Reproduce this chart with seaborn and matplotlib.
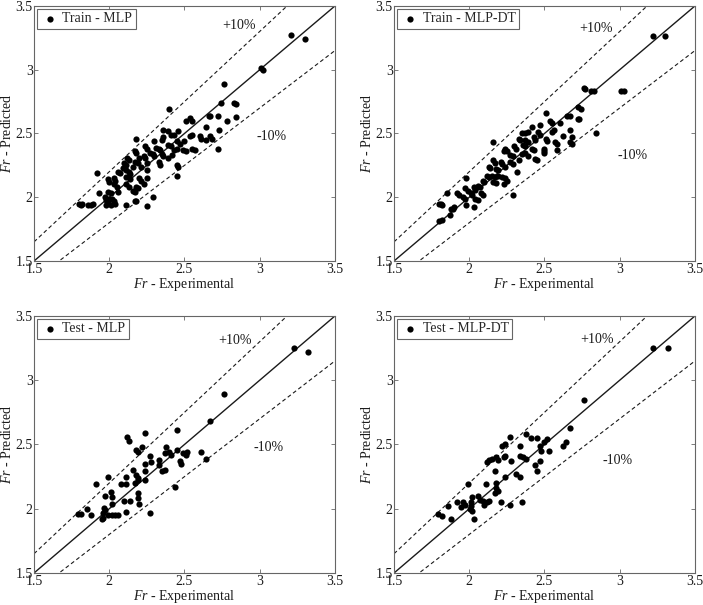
import numpy as np
import matplotlib
matplotlib.use("Agg")
import matplotlib.pyplot as plt
import seaborn as sns

# Fr experimental vs predicted (x, y pairs)
train_mlp = np.array([
    (3.21, 3.275), (3.30, 3.24), (3.01, 3.01), (3.02, 3.00), (2.76, 2.89),
    (2.74, 2.74), (2.83, 2.74), (2.84, 2.73), (2.40, 2.69),
    (2.66, 2.64), (2.67, 2.64), (2.72, 2.64), (2.84, 2.63),
    (2.51, 2.60), (2.54, 2.62), (2.55, 2.60), (2.78, 2.60),
    (2.64, 2.55), (2.73, 2.53), (2.36, 2.53), (2.39, 2.52), (2.46, 2.52),
    (2.41, 2.49), (2.43, 2.49), (2.54, 2.48), (2.55, 2.49),
    (2.60, 2.48), (2.61, 2.46), (2.67, 2.48), (2.68, 2.46), (2.64, 2.45),
    (2.18, 2.46), (2.35, 2.45), (2.36, 2.47), (2.30, 2.44),
    (2.45, 2.44), (2.47, 2.42), (2.50, 2.44), (2.72, 2.38),
    (2.24, 2.40), (2.25, 2.38), (2.31, 2.39), (2.33, 2.38), (2.39, 2.41), (2.41, 2.40),
    (2.43, 2.37), (2.45, 2.38), (2.49, 2.37), (2.51, 2.36), (2.55, 2.38), (2.57, 2.37),
    (2.17, 2.36), (2.18, 2.35), (2.27, 2.35), (2.29, 2.34), (2.34, 2.37), (2.35, 2.34),
    (2.23, 2.32), (2.24, 2.31), (2.30, 2.32), (2.36, 2.32), (2.39, 2.31), (2.42, 2.33),
    (2.12, 2.31), (2.13, 2.29), (2.20, 2.31),
    (2.10, 2.27), (2.11, 2.25), (2.17, 2.28), (2.19, 2.27), (2.25, 2.27), (2.33, 2.28),
    (2.34, 2.25), (2.45, 2.25), (2.46, 2.24),
    (2.09, 2.23), (2.11, 2.21), (2.16, 2.24), (2.21, 2.24),
    (2.06, 2.20), (2.07, 2.19), (2.13, 2.20), (2.14, 2.18), (2.25, 2.21),
    (2.45, 2.17), (1.92, 2.19),
    (1.99, 2.14), (2.00, 2.12), (2.03, 2.15), (2.04, 2.13), (2.11, 2.16), (2.14, 2.14),
    (2.20, 2.15), (2.21, 2.13), (2.25, 2.15),
    (2.03, 2.10), (2.05, 2.08), (2.11, 2.10), (2.13, 2.08), (2.18, 2.08), (2.19, 2.07), (2.23, 2.10),
    (1.99, 2.04), (2.01, 2.03), (2.06, 2.04), (2.16, 2.05), (2.17, 2.04), (1.93, 2.03),
    (1.97, 2.00), (1.98, 1.98), (1.99, 1.97), (2.00, 1.99), (2.02, 1.99), (2.03, 1.97), (2.04, 1.95),
    (1.80, 1.95), (1.81, 1.94), (1.82, 1.95), (1.86, 1.94), (1.88, 1.94), (1.89, 1.95),
    (2.11, 1.94), (2.17, 1.97), (2.18, 1.97), (2.29, 2.00), (2.25, 1.93), (1.98, 1.94), (2.01, 1.94),
])

train_mlp_dt = np.array([
    (3.22, 3.267), (3.30, 3.267), (3.01, 2.835), (3.03, 2.835), (2.84, 2.50),
    (2.76, 2.86), (2.77, 2.85), (2.83, 2.83), (2.81, 2.83),
    (2.72, 2.71), (2.74, 2.69),
    (2.65, 2.64), (2.67, 2.64), (2.72, 2.61), (2.73, 2.61),
    (2.51, 2.66), (2.54, 2.60), (2.55, 2.58), (2.60, 2.58), (2.67, 2.53),
    (2.47, 2.57), (2.42, 2.55),
    (2.35, 2.50), (2.37, 2.50), (2.39, 2.51), (2.46, 2.51), (2.47, 2.49), (2.56, 2.53), (2.55, 2.51),
    (2.62, 2.48), (2.68, 2.47), (2.67, 2.43), (2.68, 2.42), (2.16, 2.43),
    (2.33, 2.46), (2.34, 2.45), (2.37, 2.45), (2.39, 2.43), (2.43, 2.47), (2.44, 2.45),
    (2.51, 2.46), (2.52, 2.44), (2.57, 2.43), (2.58, 2.42),
    (2.24, 2.38), (2.25, 2.36), (2.30, 2.40), (2.31, 2.38), (2.36, 2.41), (2.37, 2.40),
    (2.42, 2.38), (2.43, 2.37), (2.50, 2.38), (2.50, 2.36), (2.58, 2.37),
    (2.27, 2.33), (2.29, 2.32), (2.35, 2.34), (2.37, 2.35), (2.23, 2.36), (2.44, 2.30),
    (2.45, 2.29), (2.50, 2.35), (2.39, 2.32),
    (2.16, 2.29), (2.17, 2.27), (2.21, 2.28), (2.22, 2.26), (2.27, 2.28), (2.29, 2.26), (2.33, 2.29),
    (2.13, 2.24), (2.14, 2.23), (2.18, 2.22), (2.19, 2.21), (2.24, 2.24), (2.32, 2.20),
    (2.12, 2.17), (2.13, 2.16), (2.15, 2.17), (2.17, 2.16), (2.19, 2.17), (2.22, 2.16),
    (2.24, 2.15), (2.25, 2.13),
    (2.09, 2.13), (2.10, 2.12), (2.16, 2.12), (2.18, 2.11), (2.23, 2.10),
    (2.06, 2.09), (2.07, 2.08), (1.98, 2.15), (2.03, 2.08), (2.04, 2.06), (1.97, 2.07), (1.99, 2.05),
    (1.92, 2.03), (1.93, 2.02), (2.01, 2.03), (2.02, 2.02), (2.08, 2.03), (2.09, 2.02),
    (1.96, 2.00), (1.97, 1.99), (2.04, 1.99), (2.06, 1.98), (2.29, 2.02),
    (1.98, 1.94), (2.03, 1.92), (1.85, 2.03), (1.89, 1.91),
    (1.80, 1.95), (1.81, 1.95), (1.82, 1.94), (1.88, 1.91), (1.90, 1.92),
    (1.80, 1.81), (1.82, 1.82), (1.87, 1.86),
])

test_mlp = np.array([
    (3.23, 3.25), (3.32, 3.22), (2.76, 2.89), (2.67, 2.68),
    (2.45, 2.61), (2.24, 2.59), (2.12, 2.56), (2.13, 2.53),
    (2.18, 2.46), (2.19, 2.44), (2.22, 2.48), (2.38, 2.48), (2.27, 2.41),
    (2.37, 2.43), (2.40, 2.44), (2.41, 2.42), (2.45, 2.46), (2.49, 2.43), (2.51, 2.42),
    (2.52, 2.44), (2.61, 2.44),
    (2.47, 2.37), (2.48, 2.35), (2.64, 2.385), (2.24, 2.35), (2.28, 2.36), (2.33, 2.38),
    (2.16, 2.30), (2.33, 2.34), (2.35, 2.29), (2.37, 2.30),
    (1.99, 2.25), (2.11, 2.25), (2.18, 2.26), (2.19, 2.24), (2.24, 2.29),
    (1.91, 2.19), (2.08, 2.19), (2.11, 2.19), (2.17, 2.20), (2.19, 2.22), (2.24, 2.22), (2.44, 2.17),
    (1.97, 2.10), (2.01, 2.13), (2.19, 2.12), (2.19, 2.08), (2.02, 2.09),
    (2.10, 2.06), (2.14, 2.06), (2.20, 2.04), (2.015, 2.04),
    (1.965, 2.005), (1.975, 1.99), (1.96, 1.97), (1.855, 1.996), (1.96, 1.93), (1.95, 1.92),
    (2.11, 1.975), (2.27, 1.97), (1.99, 1.95), (2.02, 1.95), (2.04, 1.95), (2.06, 1.95),
    (1.79, 1.96), (1.815, 1.96), (1.88, 1.95),
])

test_mlp_dt = np.array([
    (3.22, 3.25), (3.32, 3.25), (2.76, 2.85),
    (2.67, 2.63), (2.64, 2.52), (2.62, 2.49), (2.52, 2.54), (2.50, 2.52),
    (2.47, 2.49), (2.48, 2.45), (2.53, 2.45), (2.45, 2.55), (2.41, 2.55), (2.38, 2.58),
    (2.27, 2.56), (2.24, 2.50), (2.22, 2.49), (2.34, 2.49),
    (2.24, 2.41), (2.23, 2.40), (2.18, 2.40), (2.19, 2.38), (2.15, 2.39), (2.13, 2.38), (2.12, 2.36),
    (2.34, 2.41), (2.36, 2.40), (2.38, 2.39),
    (2.28, 2.37), (2.47, 2.37), (2.44, 2.34), (2.45, 2.29),
    (2.17, 2.29), (2.31, 2.27), (2.34, 2.25), (2.24, 2.25),
    (2.18, 2.20), (1.99, 2.19), (2.11, 2.19),
    (2.18, 2.16), (2.19, 2.14), (2.17, 2.12),
    (2.02, 2.09), (2.06, 2.10), (2.07, 2.07),
    (1.92, 2.05), (1.96, 2.05), (1.97, 2.03), (1.945, 2.01), (2.01, 2.05), (2.01, 2.02),
    (2.09, 2.06), (2.10, 2.03), (2.12, 2.05), (2.13, 2.06), (2.21, 2.05),
    (2.005, 2.00), (2.02, 1.98), (2.03, 1.92), (1.86, 2.02),
    (1.79, 1.96), (1.82, 1.94), (1.88, 1.92), (2.27, 2.03), (2.35, 2.05),
])

panel_names = ["Train - MLP", "Train - MLP-DT", "Test - MLP", "Test - MLP-DT"]
panel_data = [train_mlp, train_mlp_dt, test_mlp, test_mlp_dt]
ticks = [1.5, 2, 2.5, 3, 3.5]
tick_labels = ["1.5", "2", "2.5", "3", "3.5"]
line_x = np.array([1.5, 3.5])
band = 0.10

# where the +10% / -10% notes sit, in data units
plus_xy = [(2.86, 3.35), (2.845, 3.325), (2.835, 3.31), (2.85, 3.32)]
minus_xy = [(3.08, 2.475), (3.086, 2.33), (3.056, 2.48), (2.985, 2.375)]

sns.set_style("ticks")
plt.rcParams['font.family'] = ['Liberation Serif', 'DejaVu Serif']
plt.rcParams['mathtext.fontset'] = 'custom'
plt.rcParams['mathtext.rm'] = 'Liberation Serif'
plt.rcParams['mathtext.it'] = 'Liberation Serif:italic'
plt.rcParams['axes.edgecolor'] = '0.4'
plt.rcParams['axes.linewidth'] = 0.8
plt.rcParams['xtick.direction'] = 'in'
plt.rcParams['ytick.direction'] = 'in'
plt.rcParams['xtick.top'] = True
plt.rcParams['ytick.right'] = True
plt.rcParams['xtick.color'] = '0.4'
plt.rcParams['ytick.color'] = '0.4'
plt.rcParams['xtick.labelcolor'] = '0.1'
plt.rcParams['ytick.labelcolor'] = '0.1'

fig = plt.figure(figsize=(7.03, 6.05), dpi=100)
positions = [
    [0.0484, 0.5686, 0.428, 0.4215],
    [0.5605, 0.5686, 0.428, 0.4215],
    [0.0484, 0.0529, 0.428, 0.4248],
    [0.5605, 0.0529, 0.428, 0.4248],
]
fs = 10

for i in range(4):
    ax = fig.add_axes(positions[i])
    d = panel_data[i]
    sns.scatterplot(x=d[:, 0], y=d[:, 1], color='black', s=20, linewidth=0,
                    label=panel_names[i], ax=ax, zorder=3)
    ax.plot(line_x, line_x, color='0.1', lw=1.0)
    ax.plot(line_x, line_x * (1 + band), color='0.1', lw=0.8, ls=(0, (3.5, 2.5)))
    ax.plot(line_x, line_x * (1 - band), color='0.1', lw=0.8, ls=(0, (3.5, 2.5)))
    ax.set_xlim(1.5, 3.5)
    ax.set_ylim(1.5, 3.5)
    ax.set_xticks(ticks)
    ax.set_yticks(ticks)
    ax.set_xticklabels(tick_labels)
    ax.set_yticklabels(tick_labels)
    ax.tick_params(labelsize=fs, length=3, width=0.6)
    ax.tick_params(axis='x', pad=1.5)
    ax.tick_params(axis='y', pad=1)
    ax.text(plus_xy[i][0], plus_xy[i][1], "+10%", fontsize=fs, ha='center', va='center', color='0.1')
    ax.text(minus_xy[i][0], minus_xy[i][1], "-10%", fontsize=fs, ha='center', va='center', color='0.1')
    ax.set_xlabel("$Fr$ - Experimental", fontsize=fs, labelpad=0, color='0.1')
    ax.set_ylabel("$Fr$ - Predicted", fontsize=fs, labelpad=1, color='0.1')
    leg = ax.legend(loc='upper left', fontsize=fs, frameon=True, fancybox=False,
                    edgecolor='0.4', framealpha=1, borderpad=0.25, handletextpad=0.2,
                    handlelength=1.4, borderaxespad=0.2)
    leg.get_frame().set_linewidth(0.8)
    for sp in ax.spines.values():
        sp.set_visible(True)

fig.savefig("out.png", dpi=100)
